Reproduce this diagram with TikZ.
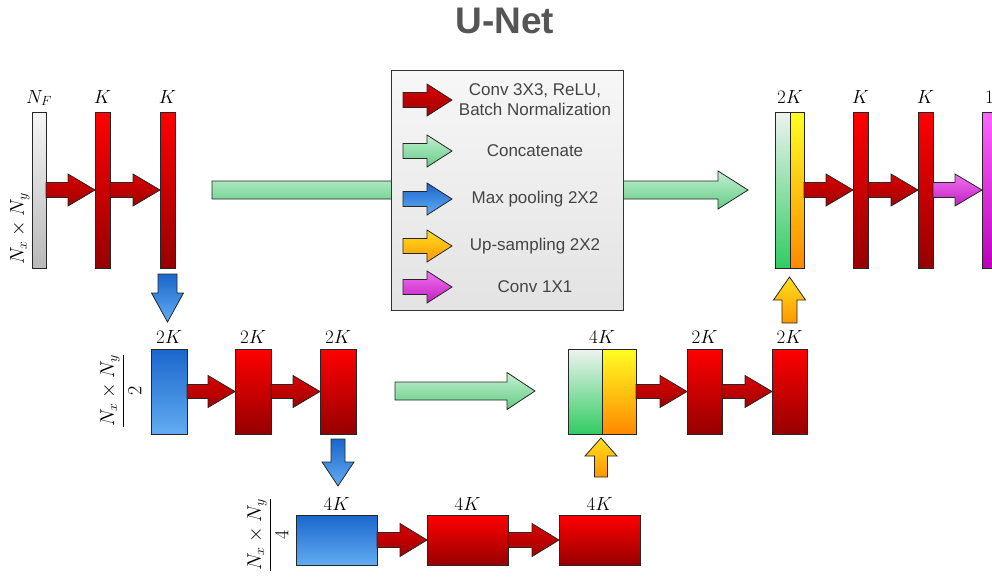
\RequirePackage{fix-cm}
\documentclass[tikz,border=0pt]{standalone}
\usepackage{fontspec}
\newfontfamily\legendfont{Liberation Sans}
\usetikzlibrary{calc}

% layer colours (top / bottom of each gradient)
\definecolor{redtop}{HTML}{FF0000}
\definecolor{redbot}{HTML}{960000}
\definecolor{arrredtop}{HTML}{DA0000}
\definecolor{arrredbot}{HTML}{A00000}
\definecolor{bluetop}{HTML}{1A66CC}
\definecolor{bluebot}{HTML}{62ACF2}
\definecolor{greentop}{HTML}{EEF3F0}
\definecolor{greenbot}{HTML}{30CC62}
\definecolor{ambertop}{HTML}{FFFF22}
\definecolor{amberbot}{HTML}{FF8800}
\definecolor{upatop}{HTML}{FFE020}
\definecolor{upabot}{HTML}{FF9600}
\definecolor{cattop}{HTML}{C4F0D0}
\definecolor{catbot}{HTML}{62CC86}
\definecolor{magtop}{HTML}{FF66FF}
\definecolor{magbot}{HTML}{BB00BB}
\definecolor{magatop}{HTML}{F270F2}
\definecolor{magabot}{HTML}{C020C0}
\definecolor{graytop}{HTML}{F6F6F6}
\definecolor{graybot}{HTML}{B8B8B8}
\definecolor{legtop}{HTML}{F7F7F7}
\definecolor{legbot}{HTML}{E3E3E3}
\definecolor{inktext}{HTML}{444444}
\definecolor{titlegray}{HTML}{555555}

\tikzset{
  layer/.style={draw=black!85, line width=0.8pt, inner sep=0pt, outer sep=0pt},
  redlayer/.style={layer, top color=redtop, bottom color=redbot},
  bluelayer/.style={layer, top color=bluetop, bottom color=bluebot},
  greenlayer/.style={layer, top color=greentop, bottom color=greenbot},
  amberlayer/.style={layer, top color=ambertop, bottom color=amberbot},
  graylayer/.style={layer, top color=graytop, bottom color=graybot},
  maglayer/.style={layer, top color=magtop, bottom color=magbot},
  thinbar/.style={minimum width=15pt, minimum height=156pt},
  midbox/.style={minimum width=35pt, minimum height=85pt},
  lowbox/.style={minimum width=81pt, minimum height=50pt},
  dimlbl/.style={font=\fontsize{19}{23}\selectfont, inner sep=0pt, anchor=base},
  sizelbl/.style={font=\fontsize{20}{24}\selectfont, inner sep=0pt, rotate=90},
  arrline/.style={draw=black!85, line width=0.8pt},
  convarr/.style={arrline, top color=arrredtop, bottom color=arrredbot},
  catarr/.style={arrline, top color=cattop, bottom color=catbot},
  poolarr/.style={arrline, top color=bluetop, bottom color=bluebot},
  uparr/.style={arrline, top color=upatop, bottom color=upabot},
  onearr/.style={arrline, top color=magatop, bottom color=magabot},
  legtext/.style={font=\legendfont\fontsize{17}{20}\selectfont, text=inktext, align=center, inner sep=0pt},
}

% horizontal block arrow: style, tail, tip, shaft half, head half, head length
\newcommand\blockright[6]{%
  \path[#1] let \p1=(#2), \p2=(#3) in
    (\x1,\y2+#4) -- (\x2-#6,\y2+#4) -- (\x2-#6,\y2+#5) -- (\x2,\y2)
    -- (\x2-#6,\y2-#5) -- (\x2-#6,\y2-#4) -- (\x1,\y2-#4) -- cycle;}
% vertical block arrow: style, tail, tip, shaft half, head half, signed head length
\newcommand\blockvert[6]{%
  \path[#1] let \p1=(#2), \p2=(#3) in
    (\x2-#4,\y1) -- ({\x2-#4},{\y2+(#6)}) -- ({\x2-#5},{\y2+(#6)}) -- (\x2,\y2)
    -- ({\x2+#5},{\y2+(#6)}) -- ({\x2+#4},{\y2+(#6)}) -- (\x2+#4,\y1) -- cycle;}

\begin{document}
\begin{tikzpicture}[x=1pt, y=-1pt]
\useasboundingbox (0,0) rectangle (992,578);
\clip (0,0) rectangle (992,578);

% title
\node[font=\legendfont\bfseries\fontsize{37}{42}\selectfont, text=titlegray] (title) at (505,21) {U-Net};

% ---- level 1 (encoder) ----
\node[graylayer, minimum width=14pt, minimum height=156pt] (in) at (39,190) {};
\node[redlayer, thinbar] (c1) at (102.5,190) {};
\node[redlayer, thinbar] (c2) at (167.5,190) {};
\node[dimlbl] (lin) at ($(in.north)+(0,-9)$) {$N_F$};
\node[dimlbl] (lc1) at ($(c1.north)+(0,-9)$) {$K$};
\node[dimlbl] (lc2) at ($(c2.north)+(0,-9)$) {$K$};
\node[sizelbl] (s1) at (20,229) {$N_x\times N_y$};
\blockright{convarr}{in.east}{c1.west}{7.5pt}{16pt}{27pt}
\blockright{convarr}{c1.east}{c2.west}{7.5pt}{16pt}{27pt}

% ---- level 1 (decoder) ----
\node[greenlayer, minimum width=15pt, minimum height=156pt] (catg1) at (782.5,190) {};
\node[amberlayer, minimum width=14pt, minimum height=156pt] (caty1) at (797,190) {};
\node[redlayer, thinbar] (d1) at (860.5,190) {};
\node[redlayer, thinbar] (d2) at (925.5,190) {};
\node[maglayer, thinbar] (out) at (989.5,190) {};
\node[dimlbl] (lcat1) at ($(caty1.north west)+(0,-9)$) {$2K$};
\node[dimlbl] (ld1) at ($(d1.north)+(0,-9)$) {$K$};
\node[dimlbl] (ld2) at ($(d2.north)+(0,-9)$) {$K$};
\node[dimlbl] (lout) at ($(out.north)+(0,-9)$) {$1$};
\blockright{convarr}{caty1.east}{d1.west}{7.5pt}{16pt}{27pt}
\blockright{convarr}{d1.east}{d2.west}{7.5pt}{16pt}{27pt}
\blockright{onearr}{d2.east}{out.west}{7.5pt}{16pt}{27pt}

% ---- level 2 (encoder) ----
\node[bluelayer, midbox, minimum width=36pt] (p1) at (169,391.5) {};
\node[redlayer, midbox, minimum width=36pt] (e1) at (253,391.5) {};
\node[redlayer, midbox, minimum width=36pt] (e2) at (338,391.5) {};
\node[dimlbl] (lp1) at ($(p1.north)+(0,-6)$) {$2K$};
\node[dimlbl] (le1) at ($(e1.north)+(0,-6)$) {$2K$};
\node[dimlbl] (le2) at ($(e2.north)+(0,-6)$) {$2K$};
\node[sizelbl] (s2) at (121,391) {$\displaystyle\frac{N_x\times N_y}{2}$};
\blockright{convarr}{p1.east}{e1.west}{7pt}{16pt}{27pt}
\blockright{convarr}{e1.east}{e2.west}{7pt}{16pt}{27pt}

% ---- level 2 (decoder) ----
\node[greenlayer, midbox, minimum width=34pt] (catg2) at (585,391.5) {};
\node[amberlayer, midbox, minimum width=34pt] (caty2) at (619,391.5) {};
\node[redlayer, midbox] (f1) at (704.5,391.5) {};
\node[redlayer, midbox] (f2) at (789.5,391.5) {};
\node[dimlbl] (lcat2) at ($(caty2.north west)+(0,-6)$) {$4K$};
\node[dimlbl] (lf1) at ($(f1.north)+(0,-6)$) {$2K$};
\node[dimlbl] (lf2) at ($(f2.north)+(0,-6)$) {$2K$};
\blockright{convarr}{caty2.east}{f1.west}{7pt}{16pt}{27pt}
\blockright{convarr}{f1.east}{f2.west}{7pt}{16pt}{27pt}

% ---- level 3 (bottleneck) ----
\node[bluelayer, lowbox] (p2) at (336.5,540) {};
\node[redlayer, lowbox] (g1) at (467.5,540) {};
\node[redlayer, lowbox] (g2) at (599.5,540) {};
\node[dimlbl] (lp2) at ($(p2.north)+(0,-5)$) {$4K$};
\node[dimlbl] (lg1) at ($(g1.north)+(0,-5)$) {$4K$};
\node[dimlbl] (lg2) at ($(g2.north)+(0,-5)$) {$4K$};
\node[sizelbl] (s3) at (268,535) {$\displaystyle\frac{N_x\times N_y}{4}$};
\blockright{convarr}{p2.east}{g1.west}{7.5pt}{16.5pt}{27pt}
\blockright{convarr}{g1.east}{g2.west}{7.5pt}{16.5pt}{27pt}

% ---- pooling and up-sampling ----
\coordinate (pool1a) at (167.5,274);
\coordinate (pool1b) at (167.5,322);
\coordinate (pool2a) at (338,439);
\coordinate (pool2b) at (338,486);
\coordinate (up1a) at (789.5,323);
\coordinate (up1b) at (789.5,277);
\coordinate (up2a) at (601,477);
\coordinate (up2b) at (601,438);
\blockvert{poolarr}{pool1a}{pool1b}{9.5pt}{16pt}{29pt}
\blockvert{poolarr}{pool2a}{pool2b}{7pt}{16pt}{24pt}
\blockvert{uparr}{up1a}{up1b}{7.5pt}{16pt}{-23pt}
\blockvert{uparr}{up2a}{up2b}{6.5pt}{16pt}{-18pt}

% ---- skip connections ----
\coordinate (skip1a) at (212,190);
\coordinate (skip1b) at (748,190);
\coordinate (skip2a) at (395,391);
\coordinate (skip2b) at (535,391);
\blockright{catarr}{skip1a}{skip1b}{9pt}{19pt}{30pt}
\blockright{catarr}{skip2a}{skip2b}{9pt}{18.5pt}{28pt}

% ---- legend ----
\node[draw=black!80, line width=0.9pt, top color=legtop, bottom color=legbot,
      minimum width=232pt, minimum height=240pt, inner sep=0pt] (legend) at (507,190) {};
\foreach \yy/\sty/\txt [count=\i] in {
    100/convarr/{Conv 3X3, ReLU,\\Batch Normalization},
    151/catarr/{Concatenate},
    199/poolarr/{Max pooling 2X2},
    246/uparr/{Up-sampling 2X2},
    287/onearr/{Conv 1X1}} {
  \coordinate (keya\i) at (403,\yy);
  \coordinate (keyb\i) at (452,\yy);
  \blockright{\sty}{keya\i}{keyb\i}{7.5pt}{16pt}{25pt}
  \node[legtext] (keytext\i) at (535,\yy) {\txt};
}
\end{tikzpicture}
\end{document}
